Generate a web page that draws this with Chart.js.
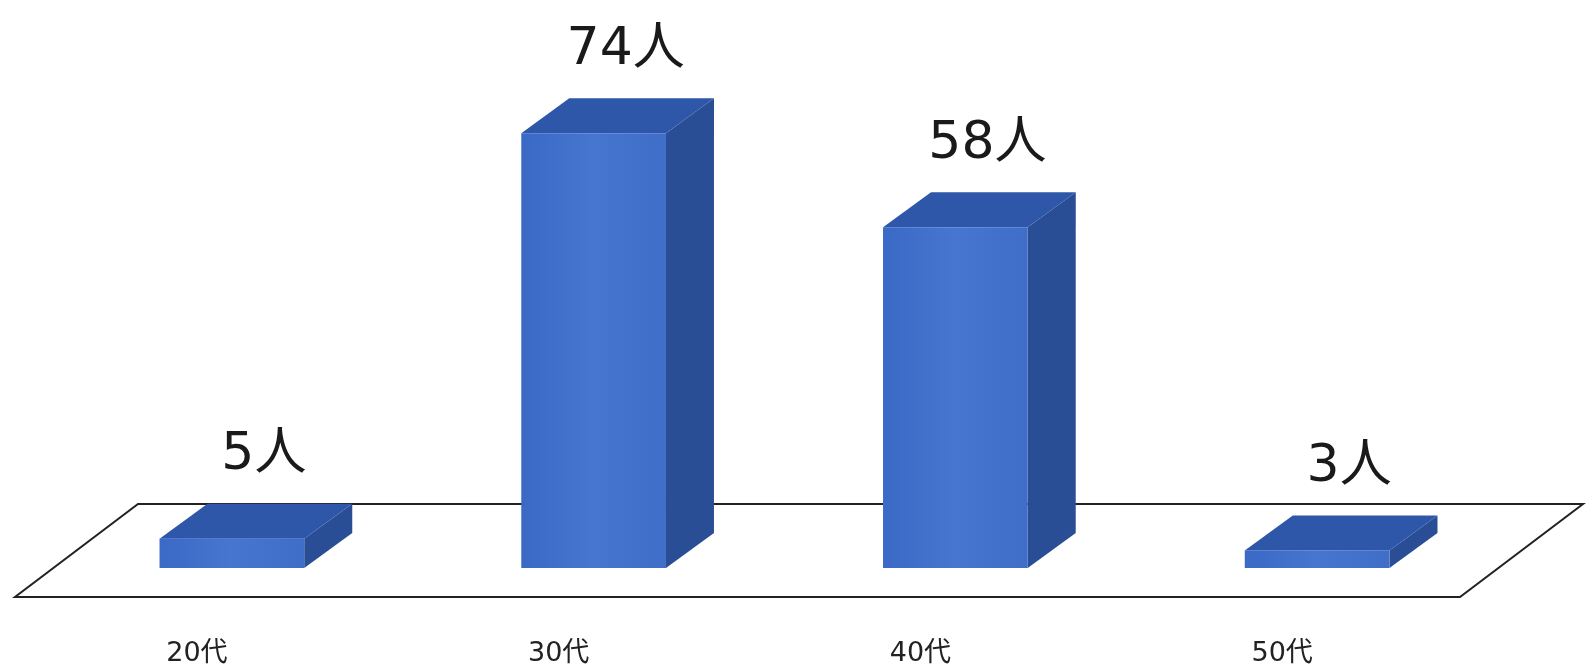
<!DOCTYPE html>
<html lang="ja">
<head>
  <meta charset="UTF-8">
  <title>年代別人数</title>
  <script src="https://cdn.jsdelivr.net/npm/chart.js"></script>
  <style>
    html, body { margin: 0; padding: 0; background: #fff; }
    #wrap { width: 1588px; height: 669px; }
  </style>
</head>
<body>
  <div id="wrap"><canvas id="ageChart"></canvas></div>
  <script>
  // データ
  const ageLabels = ['20代', '30代', '40代', '50代'];
  const peopleCounts = [5, 74, 58, 3];
  const unit = '人';

  const FONT = '"DejaVu Sans", "Noto Sans CJK JP", sans-serif';
  const DEPTH_X = 48, DEPTH_Y = -35;

  // 床（平行四辺形）を描く
  const floorPlugin = {
    id: 'floor',
    beforeDatasetsDraw(chart) {
      const { ctx, chartArea } = chart;
      const yBase = chart.scales.y.getPixelForValue(0);
      const frontY = yBase + 29, backY = frontY - 93;
      const fl = chartArea.left - 36, fr = chartArea.right - 38, off = 123;
      ctx.save();
      ctx.beginPath();
      ctx.moveTo(fl, frontY);
      ctx.lineTo(fr, frontY);
      ctx.lineTo(fr + off, backY);
      ctx.lineTo(fl + off, backY);
      ctx.closePath();
      ctx.fillStyle = '#fff';
      ctx.fill();
      ctx.lineWidth = 2;
      ctx.strokeStyle = '#222';
      ctx.stroke();
      ctx.restore();
    }
  };

  // 3D風の棒とラベル
  const boxPlugin = {
    id: 'box3d',
    afterDatasetsDraw(chart) {
      const { ctx } = chart;
      const meta = chart.getDatasetMeta(0);
      ctx.save();
      meta.data.forEach((bar, i) => {
        const { x, y, base, width } = bar.getProps(['x', 'y', 'base', 'width'], true);
        const l = x - width / 2, r = x + width / 2;

        // 側面
        ctx.beginPath();
        ctx.moveTo(r, y);
        ctx.lineTo(r + DEPTH_X, y + DEPTH_Y);
        ctx.lineTo(r + DEPTH_X, base + DEPTH_Y);
        ctx.lineTo(r, base);
        ctx.closePath();
        ctx.fillStyle = '#2a4e95';
        ctx.fill();

        // 上面
        ctx.beginPath();
        ctx.moveTo(l, y);
        ctx.lineTo(r, y);
        ctx.lineTo(r + DEPTH_X, y + DEPTH_Y);
        ctx.lineTo(l + DEPTH_X, y + DEPTH_Y);
        ctx.closePath();
        ctx.fillStyle = '#2e57aa';
        ctx.fill();

        // 正面
        const g = ctx.createLinearGradient(l, 0, r, 0);
        g.addColorStop(0, '#3a69c6');
        g.addColorStop(0.5, '#4676cf');
        g.addColorStop(1, '#3f6dc8');
        ctx.fillStyle = g;
        ctx.fillRect(l, y, width, base - y);

        // 数値ラベル
        ctx.fillStyle = '#1a1a1a';
        ctx.font = '52px ' + FONT;
        ctx.textAlign = 'center';
        ctx.textBaseline = 'middle';
        ctx.fillText(peopleCounts[i] + unit, x + 32, y + DEPTH_Y - 48);
      });
      ctx.restore();
    }
  };

  new Chart(document.getElementById('ageChart'), {
    type: 'bar',
    data: {
      labels: ageLabels,
      datasets: [{
        data: peopleCounts,
        backgroundColor: 'rgba(0,0,0,0)',
        borderWidth: 0,
        barPercentage: 0.4,
        categoryPercentage: 1.0
      }]
    },
    options: {
      responsive: true,
      maintainAspectRatio: false,
      animation: false,
      layout: { padding: { top: 4, left: 51, right: 90, bottom: 5 } },
      plugins: { legend: { display: false }, tooltip: { enabled: false } },
      scales: {
        x: {
          grid: { display: false, drawTicks: false },
          border: { display: false },
          afterFit(scale) { scale.height = 96; },
          ticks: {
            padding: 70,
            labelOffset: -35,
            color: '#222',
            font: { family: FONT, size: 27 }
          }
        },
        y: { display: false, min: 0, max: 96 }
      }
    },
    plugins: [floorPlugin, boxPlugin]
  });
  </script>
</body>
</html>
